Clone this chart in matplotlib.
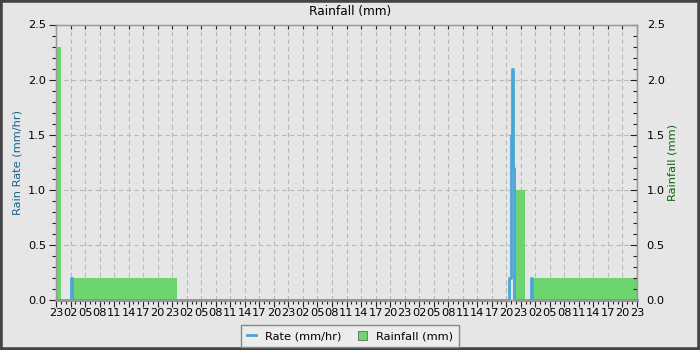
import matplotlib
matplotlib.use("Agg")
import matplotlib.pyplot as plt
from matplotlib.lines import Line2D
from matplotlib.patches import Patch, Rectangle
from matplotlib.ticker import MultipleLocator, FixedLocator

# hours since the first label (23:00 of day one), 5 days shown
start_hour = 23
span_hours = 120

# rainfall bars (mm): left edge, right edge, amount
rain_left = [0.0, 3.4, 94.5, 98.45]
rain_right = [1.0, 25.0, 96.8, 120.0]
rain_mm = [2.3, 0.2, 1.0, 0.2]

# rain rate (mm/hr)
rate_hours = [0.0, 3.0, 3.25, 3.5, 93.5, 93.75, 94.0, 94.25, 94.5, 94.75,
              98.0, 98.25, 98.5, 120.0]
rate_mmhr = [0.0, 0.0, 0.2, 0.0, 0.0, 0.2, 1.5, 2.1, 1.2, 0.0,
             0.0, 0.2, 0.0, 0.0]

bg = "#e6e6e6"
green = "#6dd56f"
blue = "#4ba6d8"
grid_c = "#b8b8b8"
fs = 8.2

fig = plt.figure(figsize=(7, 3.5), dpi=100, facecolor=bg)
ax = fig.add_axes([56/700, 50/350, 581/700, 275.5/350], facecolor=bg)

widths = [r - l for l, r in zip(rain_left, rain_right)]
ax.bar(rain_left, rain_mm, width=widths, align="edge", color=green, zorder=2)
ax.plot(rate_hours, rate_mmhr, color=blue, lw=2, drawstyle="steps-mid",
        zorder=3, clip_on=False)

ax.set_xlim(0, span_hours)
ax.set_ylim(0, 2.5)

# x axis: labels every 3 hours, ticks every hour
xt = list(range(0, span_hours + 1, 3))
ax.xaxis.set_major_locator(FixedLocator(xt))
ax.set_xticklabels([f"{(start_hour + h) % 24:02d}" for h in xt])
ax.xaxis.set_minor_locator(MultipleLocator(1))
ax.yaxis.set_major_locator(MultipleLocator(0.5))
ax.yaxis.set_minor_locator(MultipleLocator(0.1))
ax.yaxis.set_major_formatter(plt.FormatStrFormatter("%.1f"))

ax.tick_params(axis="both", which="major", labelsize=fs, length=5, width=0.8,
               color="#222222", pad=2)
ax.tick_params(axis="both", which="minor", length=3, width=0.8, color="#222222")
ax.tick_params(axis="x", which="major", pad=1)
ax.tick_params(axis="x", which="minor", top=False)
ax.tick_params(axis="x", which="major", top=True)
for t in ax.xaxis.get_major_ticks():
    t.tick2line.set_marker(3)
    t.tick2line.set_markersize(3)
    t.tick2line.set_color("#999999")

ax.grid(True, which="major", color=grid_c, ls=(0, (4, 3)), lw=0.8, zorder=0)
ax.set_axisbelow(True)
for s in ax.spines.values():
    s.set_color("#999999")
    s.set_linewidth(1)

ax2 = ax.twinx()
ax2.set_ylim(0, 2.5)
ax2.yaxis.set_major_locator(MultipleLocator(0.5))
ax2.yaxis.set_minor_locator(MultipleLocator(0.1))
ax2.yaxis.set_major_formatter(plt.FormatStrFormatter("%.1f"))
ax2.tick_params(axis="y", which="major", labelsize=fs, length=5, width=0.8,
                color="#222222", direction="in", pad=7)
ax2.tick_params(axis="y", which="minor", length=3, width=0.8,
                color="#222222", direction="in")
for s in ax2.spines.values():
    s.set_color("#999999")

ax.set_ylabel("Rain Rate (mm/hr)", color="#17628f", fontsize=fs, labelpad=4)
ax2.set_ylabel("Rainfall (mm)", color="#0d650d", fontsize=fs, labelpad=2)

fig.text(0.5, 1 - 12/350, "Rainfall (mm)", ha="center", va="center",
         fontsize=fs + 0.5)

handles = [Line2D([0], [0], color=blue, lw=2),
           Patch(facecolor=green, edgecolor="#555555", lw=0.5)]
leg = fig.legend(handles, ["Rate (mm/hr)", "Rainfall (mm)"], loc="center",
                 bbox_to_anchor=(0.5, 14/350), ncol=2, fontsize=fs,
                 frameon=True, fancybox=False, edgecolor="#888888",
                 facecolor="#ececec", framealpha=1, handlelength=0.8,
                 handleheight=0.8, columnspacing=1.5, borderpad=0.5)
leg.get_frame().set_linewidth(1)

fig.patches.append(Rectangle((0, 0), 1, 1, transform=fig.transFigure,
                             fill=False, edgecolor="#444444", lw=4))

fig.savefig("out.png", dpi=100, facecolor=bg)
